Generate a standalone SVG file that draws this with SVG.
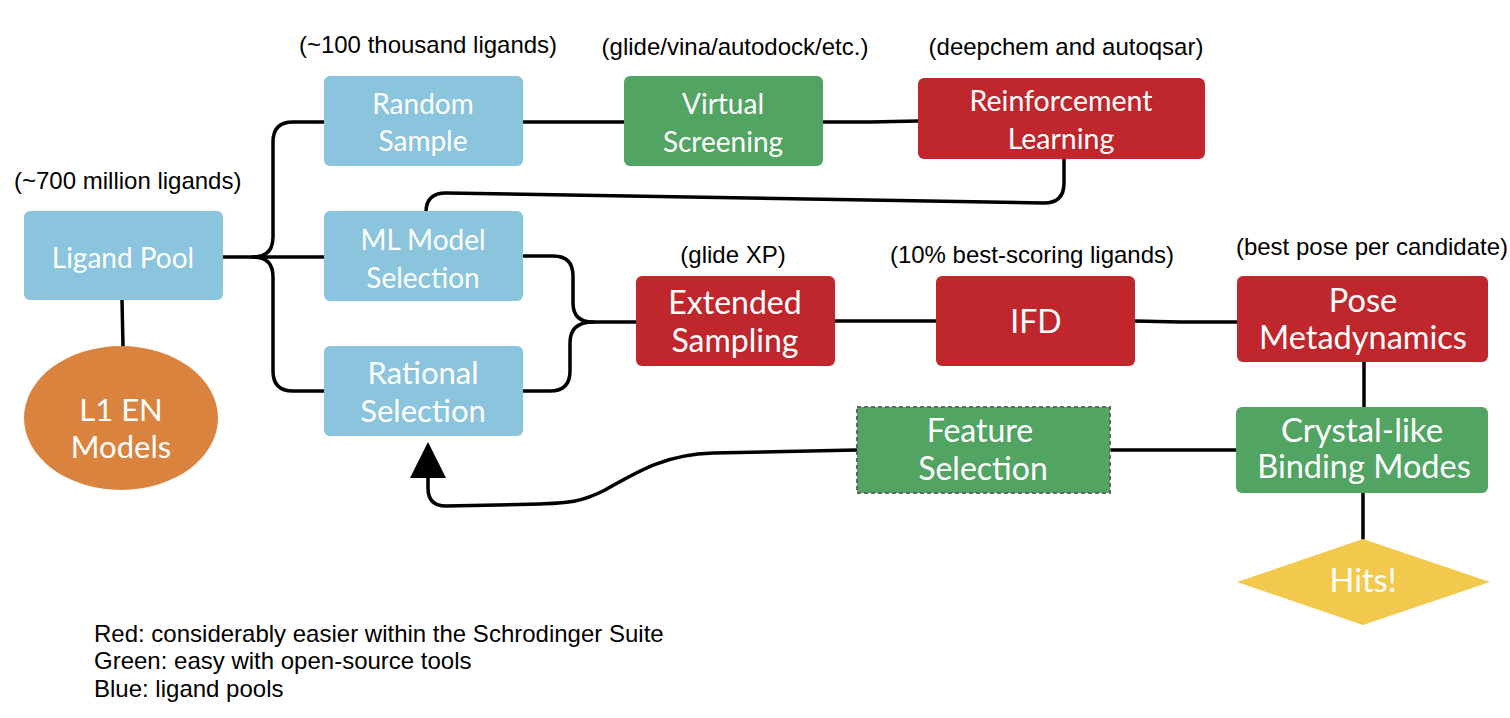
<svg xmlns="http://www.w3.org/2000/svg" width="1510" height="718" viewBox="0 0 1510 718">
<style>
.blue{fill:#8AC4DD}
.green{fill:#52A463}
.red{fill:#C0272D}
.nt{font-family:Lato,"Open Sans","DejaVu Sans",sans-serif;fill:#fff;text-anchor:middle}
.lb{font-family:"Liberation Sans",Arial,sans-serif;fill:#000;font-size:24px}
.lbc{text-anchor:middle}
.con{fill:none;stroke:#000;stroke-width:3.5;stroke-linecap:round;stroke-linejoin:round}
</style>
<defs>
<marker id="arr" viewBox="0 0 10 10" refX="0" refY="5" markerUnits="userSpaceOnUse" markerWidth="36" markerHeight="36" orient="auto">
<path d="M0,0 L10,5 L0,10 z" fill="#000"/>
</marker>
</defs>
<rect width="1510" height="718" fill="#fff"/>
<g id="connectors">
<path class="con" d="M122,300 L123,346"/>
<path class="con" d="M223,257 H253 Q273,257 273,237 V142 Q273,122 293,122 H324"/>
<path class="con" d="M253,257 H324"/>
<path class="con" d="M253,257 Q273,257 273,277 V371 Q273,391 293,391 H324"/>
<path class="con" d="M523,122 H624"/>
<path class="con" d="M823,122 L870,122 L918,121"/>
<path class="con" d="M1064,159 V183 Q1064,203 1044,203 L446,193 Q426,193 426,212"/>
<path class="con" d="M523,256 H553 Q573,256 573,276 V303 Q573,322 593,322 H636"/>
<path class="con" d="M523,391 H550 Q570,391 570,371 V343 Q570,322 593,322"/>
<path class="con" d="M835,321 H936"/>
<path class="con" d="M1135,321 L1180,322 H1237"/>
<path class="con" d="M1364,362 V407"/>
<path class="con" d="M1363,493 V539"/>
<path class="con" d="M1236,450 H1110"/>
<path class="con" d="M857,450 L713,453 C668,454 640,470 605,490 C580,503 565,503 540,504 L446,506 Q428,506 428,488 V478" marker-end="url(#arr)"/>
</g>
<g id="labels">
<text class="lb" x="14" y="189">(~700 million ligands)</text>
<text class="lb lbc" x="428" y="53">(~100 thousand ligands)</text>
<text class="lb lbc" x="735" y="55">(glide/vina/autodock/etc.)</text>
<text class="lb lbc" x="1066" y="55">(deepchem and autoqsar)</text>
<text class="lb lbc" x="733" y="263">(glide XP)</text>
<text class="lb lbc" x="1032" y="263">(10% best-scoring ligands)</text>
<text class="lb lbc" x="1372" y="255">(best pose per candidate)</text>
</g>
<g id="ligand-pool">
<rect class="blue" x="24" y="211" width="199" height="89" rx="6"/>
<text class="nt" x="123" y="268" font-size="28">Ligand Pool</text>
</g>
<g id="l1-en-models">
<ellipse cx="121" cy="418" rx="97" ry="72" fill="#D9833E"/>
<text class="nt" x="121" y="421" font-size="31">L1 EN</text>
<text class="nt" x="121" y="458" font-size="31">Models</text>
</g>
<g id="random-sample">
<rect class="blue" x="324" y="76" width="199" height="90" rx="6"/>
<text class="nt" x="423" y="114" font-size="28">Random</text>
<text class="nt" x="423" y="151" font-size="28">Sample</text>
</g>
<g id="ml-model-selection">
<rect class="blue" x="324" y="211" width="199" height="90" rx="6"/>
<text class="nt" x="423" y="250" font-size="28">ML Model</text>
<text class="nt" x="423" y="288" font-size="28">Selection</text>
</g>
<g id="rational-selection">
<rect class="blue" x="324" y="346" width="199" height="90" rx="6"/>
<text class="nt" x="423" y="384" font-size="31">Rational</text>
<text class="nt" x="423" y="422" font-size="31">Selection</text>
</g>
<g id="virtual-screening">
<rect class="green" x="624" y="76" width="199" height="90" rx="6"/>
<text class="nt" x="723" y="114" font-size="28">Virtual</text>
<text class="nt" x="723" y="152" font-size="28">Screening</text>
</g>
<g id="reinforcement-learning">
<rect class="red" x="918" y="78" width="287" height="81" rx="6"/>
<text class="nt" x="1061" y="111" font-size="28.5">Reinforcement</text>
<text class="nt" x="1061" y="149" font-size="28.5">Learning</text>
</g>
<g id="extended-sampling">
<rect class="red" x="636" y="276" width="199" height="90" rx="6"/>
<text class="nt" x="735" y="314" font-size="32">Extended</text>
<text class="nt" x="735" y="352" font-size="32">Sampling</text>
</g>
<g id="ifd">
<rect class="red" x="936" y="276" width="199" height="90" rx="6"/>
<text class="nt" x="1036" y="333" font-size="32">IFD</text>
</g>
<g id="pose-metadynamics">
<rect class="red" x="1237" y="276" width="251" height="86" rx="6"/>
<text class="nt" x="1363" y="312" font-size="32.5">Pose</text>
<text class="nt" x="1363" y="349" font-size="32.5">Metadynamics</text>
</g>
<g id="crystal-like-binding-modes">
<rect class="green" x="1236" y="407" width="252" height="86" rx="6"/>
<text class="nt" x="1362" y="442" font-size="33">Crystal-like</text>
<text class="nt" x="1364" y="478" font-size="32.5">Binding Modes</text>
</g>
<g id="feature-selection">
<rect class="green" x="857" y="407" width="253" height="86" stroke="#666" stroke-width="2" stroke-dasharray="4,3"/>
<text class="nt" x="980" y="442" font-size="32">Feature</text>
<text class="nt" x="983" y="480" font-size="32">Selection</text>
</g>
<g id="hits">
<polygon points="1363,539 1490,582 1363,625 1237,582" fill="#F2C94C"/>
<text class="nt" x="1363" y="592" font-size="32.5">Hits!</text>
</g>
<g id="legend">
<text class="lb" x="94" y="642">Red: considerably easier within the Schrodinger Suite</text>
<text class="lb" x="94" y="669">Green: easy with open-source tools</text>
<text class="lb" x="94" y="697">Blue: ligand pools</text>
</g>
</svg>
